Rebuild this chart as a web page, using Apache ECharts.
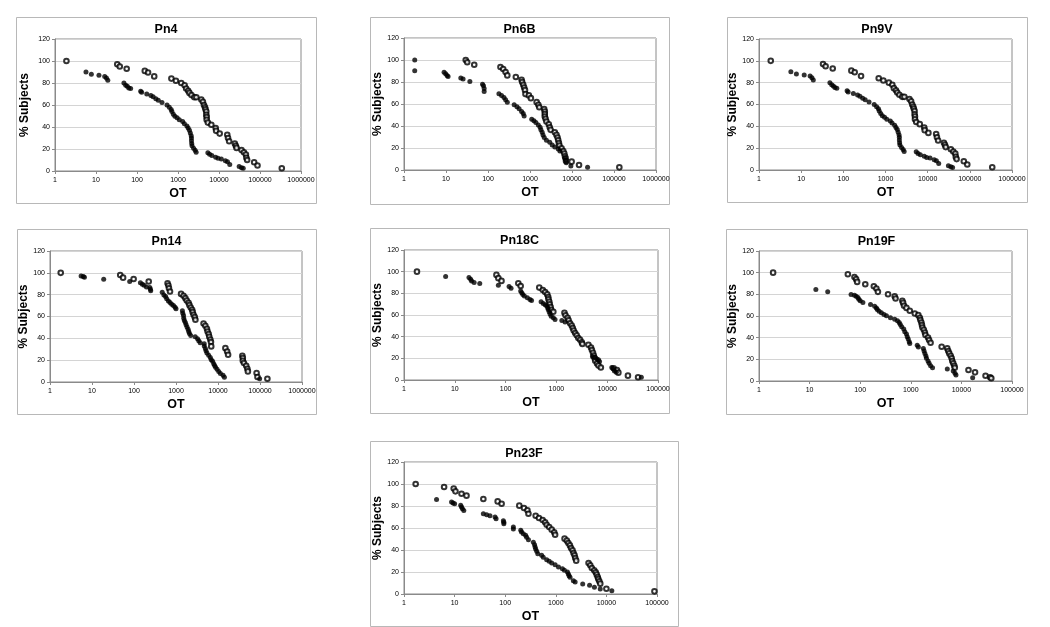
<!DOCTYPE html>
<html><head><meta charset="utf-8">
<script src="https://cdn.jsdelivr.net/npm/echarts@6/dist/echarts.min.js"></script>
<style>html,body{margin:0;padding:0;background:#fff}#c{width:1050px;height:627px}</style>
</head><body><div id="c"></div>
<script>
// ---- data: [OT, % subjects] ----
const titles = ['Pn4','Pn6B','Pn9V','Pn14','Pn18C','Pn19F','Pn23F'];
const xMaxes = [1000000,1000000,1000000,1000000,100000,100000,100000];
const yTicks = [0,20,40,60,80,100,120];

const pn4Hollow = [[1.9,100],[33,97],[38,95],[56,93],[155,91],[186,89.5],[263,86],[690,84],[890,82],[1200,80],[1450,78],[1580,75],[1770,73],[1900,71],[2130,69],[2500,67],[2800,67],[3700,65],[4050,63],[4300,60],[4550,58],[4700,56],[4900,54],[4900,51],[5000,49],[5000,46.5],[5350,44],[6500,42],[8300,39],[8500,36.5],[10400,34],[15900,33],[16600,30],[17700,27],[24300,25],[25700,23],[26800,21],[35500,19],[40500,17],[45300,15],[46500,12],[48600,10],[72000,8],[87000,5],[340000,2.5]];
const pn4Filled = [[5.7,90],[7.7,88],[11.8,87],[16.3,86],[18,84.5],[19.4,82.5],[48,80],[53,78],[58,77],[63,75.5],[70,75],[123,72.5],[130,71.5],[173,70],[218,68.7],[247,67.5],[288,65.7],[330,64.4],[407,62.3],[540,60],[614,58],[680,56],[710,54],[770,51.7],[840,49.8],[950,48.3],[1075,46.5],[1300,45],[1430,43],[1650,41],[1770,39],[1900,37],[2000,34.5],[2100,32],[2130,30],[2130,27.5],[2160,25],[2200,23],[2400,20.7],[2620,18.8],[2770,17],[5350,16.7],[5900,15.2],[6700,14],[8300,12.5],[9500,11.5],[11400,11],[14300,9.4],[16100,8.5],[18300,6],[31000,4],[35500,3],[39000,2.4]];

const pn6bHollow = [[29.5,100],[32,97.9],[47,95.7],[198,93.6],[230,91.8],[262,89],[288,86],[460,84.5],[630,82],[650,80],[690,77.5],[725,75],[760,72.6],[780,69],[940,67.8],[1050,65.3],[1440,61.7],[1580,59.3],[1660,57.1],[2180,55.3],[2250,53.2],[2250,50.8],[2250,48.6],[2350,46.5],[2460,44],[2800,41.6],[2950,38.9],[3100,36.5],[3900,34.3],[4270,31.9],[4530,29.5],[4700,27],[4880,24.6],[5030,22.2],[5640,19.8],[6200,17.3],[6560,14.9],[6800,12.5],[7050,10.6],[7200,8.2],[9800,7.6],[14700,4.6],[134000,2.4]];
const pn6bFilled = [[1.8,100],[1.8,90.3],[9,88.8],[9.8,87.5],[10.6,86],[11.2,85],[22.5,83.6],[25.5,82.7],[37,80.5],[74,78],[78,76.6],[81,74],[81,71.4],[182,69.3],[210,67.8],[240,66],[262,63.8],[288,61.7],[420,59.3],[490,57.4],[550,55.6],[630,53.2],[690,51.4],[725,49.2],[1100,46.2],[1240,44.7],[1380,43.2],[1580,41],[1740,38.9],[1820,36.5],[1950,34.3],[2040,31.9],[2180,29.5],[2460,27],[2950,25.2],[3380,22.8],[3900,21],[4700,19.1],[5150,17.3],[6800,11],[7050,9],[7300,6.5],[9400,3.6],[23500,2.4]];

const pn9vHollow = pn4Hollow.slice();
const pn9vFilled = pn4Filled.slice();

const pn14Hollow = [[1.8,100],[47,98],[55,95.6],[98,94.4],[224,92],[630,90.5],[660,88.3],[680,85.9],[720,82.9],[1320,80.7],[1510,78.9],[1670,76.8],[1800,74.6],[1990,72.5],[2090,70.4],[2240,68.2],[2420,66.1],[2500,64],[2620,61.5],[2800,59.4],[2900,57],[4530,53.6],[5000,51.5],[5450,48.7],[5650,46.3],[6000,43.9],[6200,41.4],[6560,39],[6800,36.6],[6900,32.6],[15000,31],[16500,28],[17400,25],[38000,24],[39000,21.9],[39000,19.5],[41500,17.4],[47000,14.9],[50000,12.2],[51500,9.7],[83000,8.2],[87000,4.6],[150000,3]];
const pn14Filled = [[5.5,97.2],[6.2,96.6],[6.6,96],[19,94.1],[79,92],[142,91],[158,89.6],[174,88.6],[198,87.1],[238,86.5],[246,85],[250,83.5],[470,82.2],[515,79.8],[565,78.3],[600,76.2],[660,74.3],[720,72.8],[790,71.3],[870,70.1],[950,68.5],[1000,67],[1420,65.2],[1450,63],[1510,61],[1530,58.5],[1580,56.4],[1670,54.5],[1740,52.4],[1830,50.3],[1940,48.4],[2010,46.3],[2090,44.5],[2240,42.6],[2870,41.4],[3260,39.6],[3480,37.8],[3760,35.9],[4700,35],[4700,32.9],[5000,30.8],[5190,28.6],[5450,26.5],[6000,24.4],[6560,22.5],[6900,20.4],[7440,18.9],[7900,16.8],[8300,15.2],[8750,13.4],[9500,11.6],[10400,9.7],[11400,7.9],[13200,6.1],[14200,4.3],[98000,3]];

const pn18cHollow = [[1.8,100],[66,97],[72,94],[83,91.5],[178,89.3],[198,86.8],[460,85.3],[540,83.1],[600,81.2],[660,79],[690,76.6],[700,74.4],[725,72.2],[740,69.8],[770,67.3],[790,64.8],[870,63],[1440,62],[1510,59.8],[1660,57.4],[1740,55.2],[1860,52.4],[2000,50.2],[2100,48],[2190,45.6],[2340,43.4],[2510,41.2],[2700,38.8],[2930,37.2],[3160,34.7],[3250,33.2],[4270,32.6],[4800,30],[5000,27.6],[5250,25.1],[5450,22.6],[5640,20.2],[5800,17.7],[6300,15.2],[6740,13.3],[7500,11.5],[13400,10.9],[15600,9.3],[16600,6.8],[25600,4],[40500,2.5]];
const pn18cFilled = [[6.6,95.5],[19,94.6],[20.5,93],[21.4,91.5],[24,90],[31,89],[72,87.4],[117,86.2],[128,84.7],[198,82.2],[208,80.6],[218,79],[234,77.5],[268,76],[302,74.4],[324,73.5],[500,72.2],[550,70.7],[600,69.5],[645,68.2],[675,66.7],[690,65.1],[720,63],[750,61],[790,58.9],[870,57.4],[940,55.8],[1280,54.9],[1480,53.6],[5130,21.7],[5780,20.8],[6240,19.5],[6740,18.6],[7060,17],[12300,11.5],[13400,10.2],[13900,8.4],[15100,7.1],[47000,2.5]];

const pn19fHollow = [[1.9,100],[57,98.5],[77,96],[83,94],[87,91.5],[126,89.3],[186,87.5],[209,85.3],[224,82.3],[355,80.1],[480,78.3],[500,76.1],[680,74],[705,72.1],[735,69.4],[820,67.5],[955,64.8],[1200,62.3],[1410,60.8],[1510,58.3],[1550,56.2],[1620,54],[1660,51.6],[1700,49.4],[1810,47.3],[1900,44.8],[1950,42.4],[2190,40.2],[2300,37.8],[2460,35.3],[4070,31.6],[5260,30.1],[5500,27.6],[5760,25.5],[6140,23.3],[6430,20.9],[6600,18.4],[6900,16.3],[7240,14.1],[7400,12.3],[13800,10.1],[18600,8],[30000,4.9],[37000,3.4],[39000,2.5]];
const pn19fFilled = [[13.3,84.4],[22.8,82.3],[66,79.8],[77,79.2],[83,78.3],[90,77],[94,75.5],[100,74],[113,72.4],[160,70.6],[193,69.1],[209,67.5],[218,66],[236,64.5],[262,62.9],[295,61.4],[330,60.2],[396,58.3],[480,57.1],[545,55.6],[590,54],[620,52.2],[660,50],[725,47.9],[760,45.4],[820,43.3],[850,40.8],[890,38.7],[930,36.2],[955,34.7],[1340,33.1],[1410,31.3],[1770,30.1],[1830,27.6],[1900,25.5],[1990,23],[2040,20.9],[2190,18.4],[2300,16.3],[2460,14.1],[2690,12.3],[5260,11],[6900,9.2],[7470,7.1],[7820,5.5],[16700,3.1]];

const pn23fHollow = [[1.7,100],[6.2,97.3],[9.6,95.8],[10.4,93.3],[13.7,91.2],[17.2,89.4],[37,86.4],[71,84.2],[85,82.1],[190,80.3],[235,78.2],[275,76.1],[288,73],[400,71.2],[465,69.1],[550,67.3],[615,65.2],[660,63],[740,60.9],[830,58.5],[930,56.1],[970,53.9],[1490,50.3],[1650,48.5],[1770,46.4],[1900,44.2],[2000,41.8],[2140,39.7],[2240,37.3],[2350,35.2],[2420,32.7],[2530,30.3],[4440,28.2],[4800,26.1],[5150,23.6],[5740,21.5],[6150,19.7],[6440,17.6],[6740,15.5],[6920,13.6],[7250,11.5],[7570,9.4],[10000,4.8],[89000,2.4]];
const pn23fFilled = [[4.4,85.8],[8.7,83.6],[9.3,82.7],[10,82.1],[13.2,80.6],[13.7,79.1],[14.3,77.6],[15.2,75.8],[37,73],[43,72.1],[50,71.2],[63,70],[66,68.5],[92,66.7],[94,65.2],[94,63.9],[145,60.9],[145,59.1],[203,57.9],[210,56.4],[228,54.8],[253,53.3],[265,51.5],[288,49.4],[360,47],[380,44.8],[390,42.7],[400,40.9],[420,38.8],[440,36.7],[525,35.2],[565,33.3],[660,31.2],[740,29.7],[830,28.2],[970,26.7],[1130,24.5],[1350,23],[1480,21.5],[1700,20],[1770,18.2],[1830,16.7],[1910,15.2],[2220,12.1],[2410,10.9],[3400,9.1],[4650,7.9],[5800,6.1],[7550,4.5],[12800,3]];

const hollowSets = [pn4Hollow,pn6bHollow,pn9vHollow,pn14Hollow,pn18cHollow,pn19fHollow,pn23fHollow];
const filledSets = [pn4Filled,pn6bFilled,pn9vFilled,pn14Filled,pn18cFilled,pn19fFilled,pn23fFilled];

// ---- layout (pixels) ----
const boxes = [[16,17,300,186],[370,17,299,187],[727,17,300,185],[17,229,299,185],[370,228,299,185],[726,229,301,185],[370,441,308,185]];
const grids = [[55,39,246,132],[404,38,252,132],[759,39,253,131],[50,251,252,131],[404,250,254,130],[759,251,253,130],[404,462,253,132]];
const yNameGaps = [24,18,17,17,18,18,18];

const FONT = '"Liberation Sans", Arial, sans-serif';
const option = {animation:false, backgroundColor:'#fff', title:[], grid:[], xAxis:[], yAxis:[], series:[],
  graphic:{elements:[]}};

titles.forEach((t,i)=>{
  const b=boxes[i], g=grids[i];
  option.graphic.elements.push({type:'rect', z:-100, silent:true,
    shape:{x:b[0]+0.5,y:b[1]+0.5,width:b[2],height:b[3]},
    style:{fill:'#fff',stroke:'#b8b8b8',lineWidth:1}});
  option.title.push({text:t, left:b[0]+b[2]/2, top:b[1]+6, textAlign:'center', padding:0,
    textStyle:{fontFamily:FONT,fontSize:12.5,fontWeight:'bold',color:'#000'}});
  option.grid.push({left:g[0],top:g[1],width:g[2],height:g[3],show:true,borderColor:'#8a8a8a',borderWidth:1,backgroundColor:'#fff',containLabel:false});
  option.xAxis.push({gridIndex:i,type:'log',logBase:10,min:1,max:xMaxes[i],
    name:'OT',nameLocation:'middle',nameGap:16,
    nameTextStyle:{fontFamily:FONT,fontSize:12.5,fontWeight:'bold',color:'#000'},
    axisLine:{show:true,lineStyle:{color:'#8a8a8a'}},
    axisTick:{show:true,length:3,lineStyle:{color:'#8a8a8a'}},
    axisLabel:{fontFamily:FONT,fontSize:7,color:'#000',margin:6,formatter:v=>String(Math.round(v))},
    splitLine:{show:false},minorTick:{show:false}});
  option.yAxis.push({gridIndex:i,type:'value',min:yTicks[0],max:yTicks[yTicks.length-1],interval:20,
    name:'% Subjects',nameLocation:'middle',nameGap:yNameGaps[i],nameRotate:90,
    nameTextStyle:{fontFamily:FONT,fontSize:12,fontWeight:'bold',color:'#000'},
    axisLine:{show:true,lineStyle:{color:'#8a8a8a'}},
    axisTick:{show:true,length:3,lineStyle:{color:'#8a8a8a'}},
    axisLabel:{fontFamily:FONT,fontSize:7,color:'#000',margin:5},
    splitLine:{show:true,lineStyle:{color:'#d4d4d4',width:1}}});
  option.series.push({type:'scatter',xAxisIndex:i,yAxisIndex:i,data:hollowSets[i],silent:true,
    symbol:'emptyCircle',symbolSize:4.6,itemStyle:{color:'#000',borderColor:'#111',borderWidth:0.9}});
  option.series.push({type:'scatter',xAxisIndex:i,yAxisIndex:i,data:filledSets[i],silent:true,
    symbol:'circle',symbolSize:5,itemStyle:{color:'#000'}});
});

const chart = echarts.init(document.getElementById('c'),null,{renderer:'canvas'});
chart.setOption(option);
</script></body></html>
